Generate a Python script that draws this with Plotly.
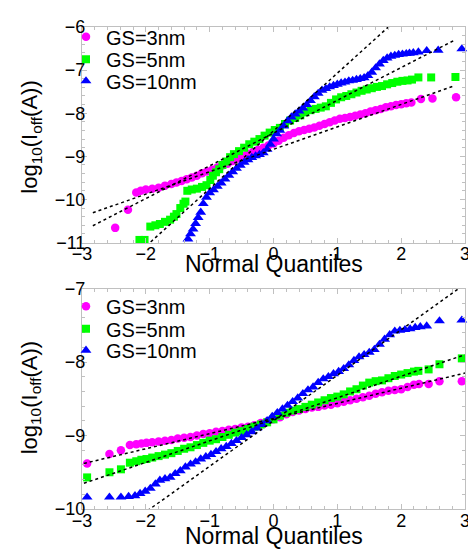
import plotly.graph_objects as go

# ---------------- data ----------------
# Top panel: normal quantiles (x) and log10(Ioff) (y)
top_gs3_x = [-2.48, -2.28, -2.15, -2.08, -2.0, -1.9, -1.8, -1.7, -1.6, -1.52, -1.44, -1.36, -1.28, -1.2,
             -1.12, -1.04, -0.96, -0.88, -0.8, -0.72, -0.64, -0.56, -0.48, -0.4, -0.32, -0.24, -0.16, -0.08,
             0.0, 0.08, 0.16, 0.24, 0.32, 0.4, 0.48, 0.56, 0.64, 0.72, 0.8, 0.88, 0.96, 1.04, 1.12, 1.2,
             1.28, 1.36, 1.44, 1.52, 1.6, 1.68, 1.76, 1.84, 1.92, 2.0, 2.08, 2.16, 2.31, 2.49, 2.86]
top_gs3_y = [-10.66, -10.24, -9.84, -9.80, -9.77, -9.75, -9.73, -9.68, -9.64, -9.61, -9.57, -9.53, -9.49, -9.45,
             -9.39, -9.35, -9.31, -9.26, -9.21, -9.17, -9.11, -9.05, -8.99, -8.94, -8.90, -8.85, -8.80, -8.75,
             -8.70, -8.64, -8.57, -8.51, -8.46, -8.42, -8.39, -8.36, -8.33, -8.29, -8.25, -8.21, -8.17, -8.13,
             -8.11, -8.09, -8.06, -8.03, -8.00, -7.96, -7.93, -7.90, -7.86, -7.84, -7.81, -7.79, -7.77, -7.75,
             -7.67, -7.66, -7.63]

top_gs5_x = [-2.1, -2.02, -1.93, -1.85, -1.78, -1.7, -1.62, -1.56, -1.52, -1.46, -1.41, -1.38, -1.35, -1.28,
             -1.2, -1.12, -1.05, -0.99, -0.95, -0.9, -0.85, -0.8, -0.74, -0.68, -0.62, -0.54, -0.46, -0.38,
             -0.3, -0.22, -0.14, -0.06, 0.02, 0.1, 0.18, 0.26, 0.34, 0.42, 0.5, 0.58, 0.66, 0.74, 0.82, 0.9,
             0.98, 1.06, 1.14, 1.22, 1.3, 1.38, 1.46, 1.54, 1.62, 1.7, 1.78, 1.86, 1.94, 2.02, 2.1, 2.17,
             2.27, 2.47, 2.85]
top_gs5_y = [-10.94, -10.94, -10.63, -10.60, -10.57, -10.52, -10.47, -10.40, -10.34, -10.20, -10.10, -10.05,
             -9.80, -9.77, -9.75, -9.71, -9.67, -9.55, -9.45, -9.37, -9.30, -9.20, -9.12, -9.02, -8.95, -8.88,
             -8.80, -8.72, -8.66, -8.60, -8.52, -8.45, -8.39, -8.34, -8.25, -8.17, -8.11, -8.05, -7.98, -7.93,
             -7.90, -7.87, -7.84, -7.76, -7.68, -7.63, -7.60, -7.56, -7.52, -7.48, -7.45, -7.42, -7.39, -7.37,
             -7.33, -7.30, -7.27, -7.25, -7.24, -7.22, -7.17, -7.17, -7.16]

top_gs10_x = [-1.34, -1.3, -1.26, -1.22, -1.18, -1.14, -1.1, -1.05, -1.0, -0.94, -0.88, -0.82, -0.76, -0.7,
              -0.64, -0.58, -0.52, -0.46, -0.4, -0.34, -0.28, -0.22, -0.16, -0.1, -0.05, 0.0, 0.05, 0.1, 0.16,
              0.22, 0.28, 0.34, 0.4, 0.46, 0.52, 0.58, 0.64, 0.7, 0.76, 0.82, 0.88, 0.94, 1.0, 1.06, 1.12,
              1.18, 1.24, 1.3, 1.36, 1.42, 1.48, 1.54, 1.6, 1.66, 1.72, 1.78, 1.84, 1.9, 1.96, 2.02, 2.08,
              2.13, 2.19, 2.27, 2.40, 2.58, 2.95]
top_gs10_y = [-10.92, -10.80, -10.69, -10.56, -10.42, -10.30, -10.10, -9.95, -9.85, -9.78, -9.70, -9.62,
              -9.53, -9.44, -9.36, -9.28, -9.21, -9.14, -9.08, -9.03, -8.99, -8.96, -8.92, -8.84, -8.72,
              -8.60, -8.48, -8.40, -8.30, -8.18, -8.09, -8.02, -7.95, -7.88, -7.80, -7.71, -7.62, -7.54,
              -7.47, -7.43, -7.39, -7.36, -7.33, -7.30, -7.28, -7.25, -7.24, -7.22, -7.20, -7.18, -7.13,
              -7.05, -6.95, -6.86, -6.78, -6.72, -6.68, -6.66, -6.64, -6.63, -6.62, -6.61, -6.60, -6.58,
              -6.55, -6.54, -6.51]

# Bottom panel
bot_gs3_x = [-2.92, -2.57, -2.39, -2.25, -2.15, -2.07, -1.99, -1.9, -1.8, -1.7, -1.6, -1.5, -1.4, -1.3,
             -1.2, -1.1, -1.0, -0.9, -0.8, -0.7, -0.6, -0.5, -0.4, -0.3, -0.2, -0.1, 0.0, 0.1, 0.2, 0.3,
             0.4, 0.5, 0.6, 0.7, 0.8, 0.9, 1.0, 1.1, 1.2, 1.3, 1.4, 1.5, 1.6, 1.7, 1.8, 1.9, 2.0, 2.1, 2.2,
             2.28, 2.43, 2.6, 2.95]
bot_gs3_y = [-9.38, -9.25, -9.20, -9.13, -9.12, -9.11, -9.10, -9.09, -9.08, -9.07, -9.06, -9.04, -9.03,
             -9.02, -9.00, -8.98, -8.97, -8.95, -8.94, -8.92, -8.91, -8.89, -8.88, -8.86, -8.83, -8.81,
             -8.78, -8.75, -8.71, -8.68, -8.66, -8.64, -8.62, -8.61, -8.59, -8.58, -8.56, -8.54, -8.52,
             -8.50, -8.48, -8.46, -8.43, -8.41, -8.39, -8.38, -8.37, -8.34, -8.31, -8.30, -8.30, -8.26, -8.26]

bot_gs5_x = [-2.92, -2.57, -2.39, -2.25, -2.15, -2.07, -1.99, -1.9, -1.8, -1.7, -1.6, -1.5, -1.4, -1.3,
             -1.2, -1.1, -1.0, -0.9, -0.8, -0.7, -0.6, -0.5, -0.4, -0.3, -0.2, -0.1, 0.0, 0.1, 0.2, 0.3,
             0.4, 0.5, 0.6, 0.7, 0.8, 0.9, 1.0, 1.1, 1.2, 1.3, 1.4, 1.5, 1.6, 1.7, 1.8, 1.9, 2.0, 2.1, 2.2,
             2.27, 2.43, 2.6, 2.95]
bot_gs5_y = [-9.57, -9.50, -9.46, -9.37, -9.35, -9.33, -9.32, -9.30, -9.28, -9.26, -9.24, -9.21, -9.18,
             -9.16, -9.13, -9.10, -9.07, -9.05, -9.02, -8.99, -8.96, -8.94, -8.91, -8.88, -8.85, -8.82,
             -8.78, -8.73, -8.69, -8.66, -8.64, -8.61, -8.58, -8.55, -8.52, -8.49, -8.47, -8.44, -8.40,
             -8.37, -8.32, -8.28, -8.26, -8.25, -8.22, -8.19, -8.17, -8.15, -8.13, -8.12, -8.10, -8.03, -7.95]

bot_gs10_x = [-2.92, -2.57, -2.39, -2.27, -2.17, -2.09, -2.01, -1.93, -1.85, -1.78, -1.7, -1.62, -1.54,
              -1.46, -1.38, -1.3, -1.22, -1.14, -1.06, -0.98, -0.9, -0.82, -0.74, -0.66, -0.58, -0.5, -0.42,
              -0.34, -0.26, -0.18, -0.1, -0.02, 0.06, 0.14, 0.22, 0.3, 0.38, 0.46, 0.54, 0.62, 0.7, 0.78,
              0.86, 0.94, 1.02, 1.1, 1.18, 1.26, 1.34, 1.42, 1.5, 1.58, 1.66, 1.74, 1.82, 1.9, 1.98, 2.06,
              2.14, 2.22, 2.3, 2.4, 2.6, 2.95]
bot_gs10_y = [-9.84, -9.84, -9.84, -9.83, -9.82, -9.79, -9.76, -9.72, -9.66, -9.61, -9.59, -9.57, -9.52,
              -9.48, -9.43, -9.39, -9.36, -9.32, -9.29, -9.26, -9.22, -9.18, -9.15, -9.11, -9.07, -9.03,
              -8.99, -8.95, -8.90, -8.85, -8.80, -8.74, -8.69, -8.64, -8.59, -8.54, -8.49, -8.43, -8.38,
              -8.34, -8.28, -8.23, -8.20, -8.16, -8.13, -8.09, -8.04, -7.98, -7.93, -7.90, -7.87, -7.83,
              -7.76, -7.69, -7.63, -7.58, -7.57, -7.56, -7.55, -7.53, -7.52, -7.51, -7.44, -7.43]

# Reference (fit) lines: endpoints [x0, x1], [y0, y1]
top_fit_x = {"3": [-2.83, 2.84], "5": [-2.83, 2.83], "10": [-2.83, 2.83]}
top_fit_y = {"3": [-10.31, -7.36], "5": [-10.61, -6.31], "10": [-12.20, -4.62]}
bot_fit_x = {"3": [-2.97, 3.0], "5": [-2.97, 3.0], "10": [-2.97, 3.0]}
bot_fit_y = {"3": [-9.38, -8.15], "5": [-9.65, -7.90], "10": [-10.64, -6.94]}

labels = ["GS=3nm", "GS=5nm", "GS=10nm"]
keys = ["3", "5", "10"]
x_ticks = [-3, -2, -1, 0, 1, 2, 3]
top_y_ticks = [-11, -10, -9, -8, -7, -6]
bot_y_ticks = [-10, -9, -8, -7]
x_title = "Normal Quantiles"
y_title = "log<sub>10</sub>(I<sub>off</sub>(A))"

# ---------------- styling / layout ----------------
colors = ["#ff00ff", "#00ff00", "#0000ff"]
symbols = ["circle", "square", "triangle-up"]
sizes = [8.5, 8, 9.5]
FONT = "Arial, 'Liberation Sans', Helvetica, sans-serif"

OFF = 8                     # page body margin: the figure starts 8 px in from the window edge
W, H = 476 - OFF, 552 - OFF
ML, MR, MT, MB = 82 - OFF, W - (465 - OFF), 17 - OFF, H - (509 - OFF)
PW, PH = W - ML - MR, H - MT - MB


def py_to_paper(page_py):
    return (H - MB - (page_py - OFF)) / PH


def px_to_paper(page_px):
    return (page_px - OFF - ML) / PW


top_dom = [py_to_paper(237), 1.0]
bot_dom = [0.0, py_to_paper(284)]

fig = go.Figure()

top_sets = [(top_gs3_x, top_gs3_y), (top_gs5_x, top_gs5_y), (top_gs10_x, top_gs10_y)]
bot_sets = [(bot_gs3_x, bot_gs3_y), (bot_gs5_x, bot_gs5_y), (bot_gs10_x, bot_gs10_y)]

legend_rows_top = [27, 50, 72]
legend_rows_bot = [302, 325, 347]
legend_cfg = {}

for i, (xs, ys) in enumerate(top_sets):
    lname = "legend" if i == 0 else f"legend{i + 1}"
    legend_cfg[lname] = legend_rows_top[i]
    fig.add_trace(go.Scatter(x=xs, y=ys, mode="markers", name=labels[i], legend=lname,
                             marker=dict(color=colors[i], symbol=symbols[i], size=sizes[i], line=dict(width=0)),
                             cliponaxis=False, xaxis="x", yaxis="y"))
for i, (xs, ys) in enumerate(bot_sets):
    lname = f"legend{i + 4}"
    legend_cfg[lname] = legend_rows_bot[i]
    fig.add_trace(go.Scatter(x=xs, y=ys, mode="markers", name=labels[i], legend=lname,
                             marker=dict(color=colors[i], symbol=symbols[i], size=sizes[i], line=dict(width=0)),
                             cliponaxis=False, xaxis="x2", yaxis="y2"))
for k in keys:
    fig.add_trace(go.Scatter(x=top_fit_x[k], y=top_fit_y[k], mode="lines", showlegend=False,
                             line=dict(color="black", width=1.5, dash="dot"), xaxis="x", yaxis="y"))
    fig.add_trace(go.Scatter(x=bot_fit_x[k], y=bot_fit_y[k], mode="lines", showlegend=False,
                             line=dict(color="black", width=1.5, dash="dot"), xaxis="x2", yaxis="y2"))

AXLINE = "#c0c0c0"
common = dict(showline=True, linecolor=AXLINE, linewidth=1, mirror="ticks", ticks="inside",
              tickcolor=AXLINE, ticklen=5, tickwidth=1, showgrid=False, zeroline=False, automargin=False,
              tickfont=dict(family=FONT, size=18, color="black"),
              minor=dict(ticks="inside", ticklen=3, tickcolor=AXLINE, dtick=0.2, showgrid=False))
xcommon = dict(common, ticklabelstandoff=-5)
ycommon = dict(common, ticklabelstandoff=-8)

layout = dict(
    width=W, height=H, margin=dict(l=ML, r=MR, t=MT, b=MB),
    paper_bgcolor="white", plot_bgcolor="white",
    font=dict(family=FONT, color="black"),
    xaxis=dict(domain=[0, 1], anchor="y", range=[-3, 3], tickvals=x_ticks, **xcommon),
    yaxis=dict(domain=top_dom, anchor="x", range=[-11, -6], tickvals=top_y_ticks, **ycommon),
    xaxis2=dict(domain=[0, 1], anchor="y2", range=[-3, 3], tickvals=x_ticks, **xcommon),
    yaxis2=dict(domain=bot_dom, anchor="x2", range=[-10, -7], tickvals=bot_y_ticks, **ycommon),
)
LEG_X = px_to_paper(66)
for lname, row_py in legend_cfg.items():
    layout[lname] = dict(x=LEG_X, y=py_to_paper(row_py), xanchor="left", yanchor="middle",
                         bgcolor="rgba(0,0,0,0)", borderwidth=0,
                         font=dict(family=FONT, size=20, color="black"), itemwidth=30)

annotations = []
for cy in (259, 537):
    annotations.append(dict(text=x_title, xref="paper", yref="paper", x=0.5, y=py_to_paper(cy),
                            xanchor="center", yanchor="middle", showarrow=False,
                            font=dict(family=FONT, size=23, color="black")))
for cy in (130, 396):
    annotations.append(dict(text=y_title, xref="paper", yref="paper", x=px_to_paper(31), y=py_to_paper(cy),
                            xanchor="center", yanchor="middle", showarrow=False, textangle=-90,
                            font=dict(family=FONT, size=22, color="black")))
layout["annotations"] = annotations
fig.update_layout(**layout)

fig.write_html("out.html")
